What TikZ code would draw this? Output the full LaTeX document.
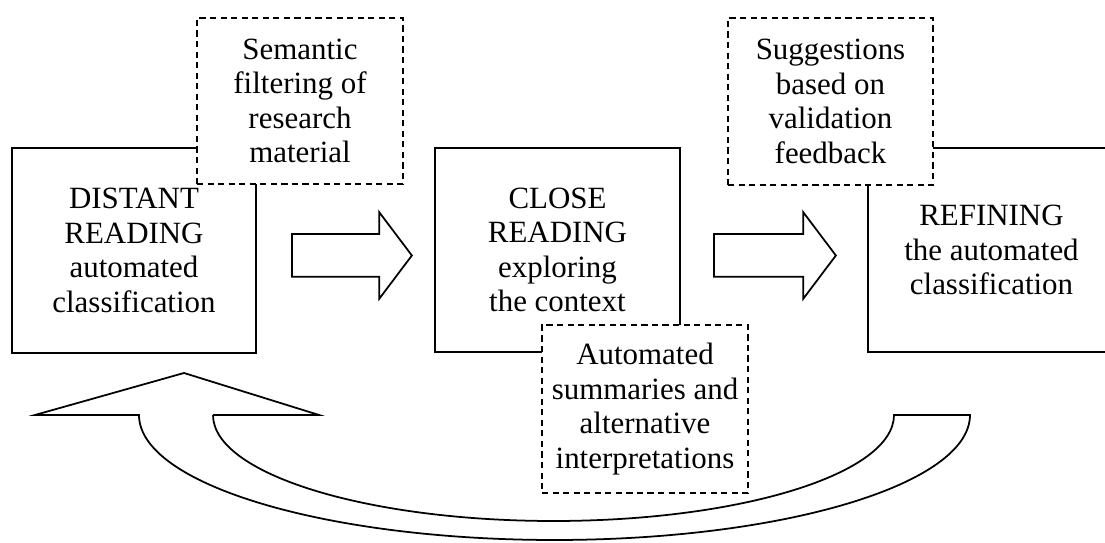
\documentclass[tikz,border=0pt]{standalone}
\usepackage{fontspec}
\setmainfont{Liberation Serif}
\usetikzlibrary{shapes.arrows}
\tikzset{
  stage/.style={draw, line width=1pt, align=center, inner sep=0pt,
    font=\fontsize{17.6}{19.6}\selectfont},
  note/.style={stage, fill=white, dash pattern=on 3.5pt off 2.5pt},
  bigarrow/.style={single arrow, draw, line width=1pt, inner xsep=0pt,
    inner ysep=0.41cm, single arrow head extend=0.44cm,
    single arrow tip angle=106, minimum height=2.4cm, anchor=tail}
}

\begin{document}
\begin{tikzpicture}
  \useasboundingbox (0,0) rectangle (22.1,10.86);
  \clip (0,0) rectangle (22.1,10.86);
  \node[stage, minimum width=4.88cm, minimum height=4.1cm]  (distant)  at (2.68,5.85)  {DISTANT\\READING\\automated\\classification};
  \node[stage, minimum width=4.9cm, minimum height=4.08cm]  (close)    at (11.15,5.86) {CLOSE\\READING\\exploring\\the context};
  \node[stage, minimum width=4.94cm, minimum height=4.08cm] (refining) at (19.83,5.86) {REFINING\\the automated\\classification};
  \node[note, minimum width=4.12cm, minimum height=3.32cm]  (semantic) at (6.0,8.84)   {Semantic\\filtering of\\research\\material};
  \node[note, minimum width=4.12cm, minimum height=3.36cm]  (summary)  at (12.9,2.68)  {Automated\\summaries and\\alternative\\interpretations};
  \node[note, minimum width=4.1cm, minimum height=3.34cm]   (suggest)  at (16.61,8.83) {Suggestions\\based on\\validation\\feedback};
  \node[bigarrow] (toclose)    at (5.82,5.75)  {};
  \node[bigarrow, minimum height=2.44cm] (torefine) at (14.26,5.75) {};
  \draw[line width=1pt] (4.26,2.56) -- (6.38,2.56) -- (3.68,3.4) -- (0.7,2.56) -- (2.78,2.56)
    arc[start angle=180, end angle=360, x radius=8.31, y radius=2.5]
    -- (17.88,2.56)
    arc[start angle=0, end angle=-180, x radius=6.81, y radius=2.12] -- cycle;
\end{tikzpicture}
\end{document}
